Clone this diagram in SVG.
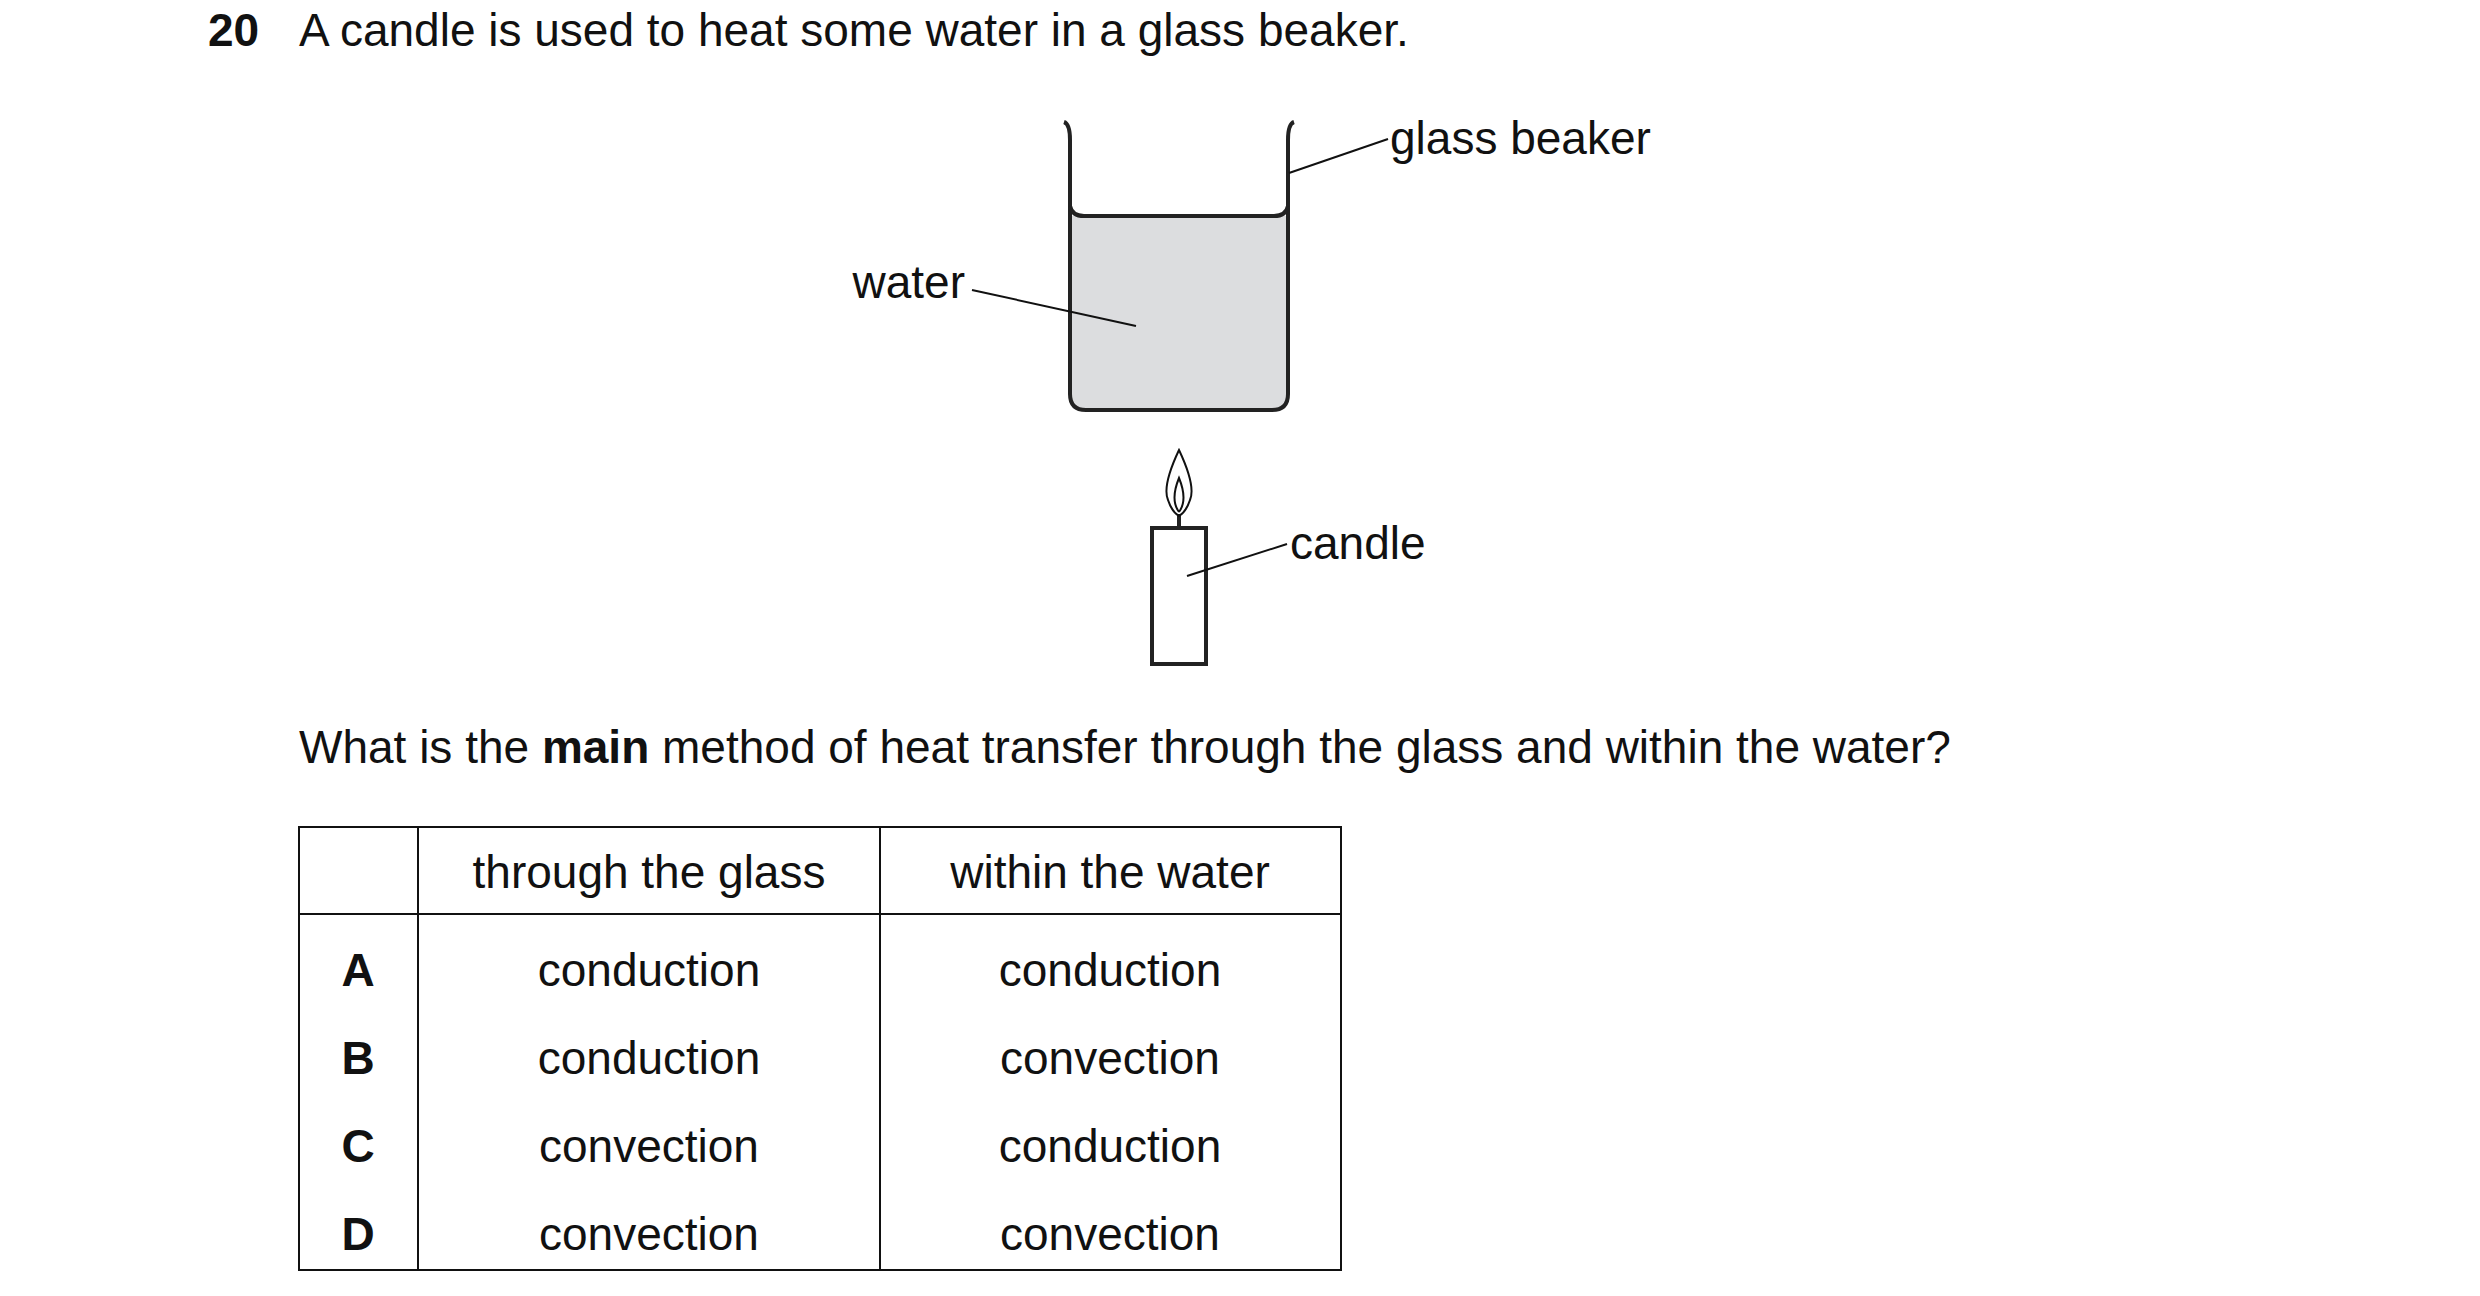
<svg xmlns="http://www.w3.org/2000/svg" width="2480" height="1296" viewBox="0 0 2480 1296">
<style>
text{font-family:"Liberation Sans",Arial,sans-serif;font-size:46px;fill:#111}
.b{font-weight:bold}
.c{text-anchor:middle}
.ln{stroke:#111;stroke-width:2;fill:none}
.th{stroke:#222;stroke-width:4;fill:none}
</style>
<rect width="2480" height="1296" fill="#fff"/>
<text class="b" x="208" y="46">20</text>
<text x="299" y="46">A candle is used to heat some water in a glass beaker.</text>
<g id="beaker">
<path d="M1070,216 L1288,216 L1288,394 Q1288,410 1272,410 L1086,410 Q1070,410 1070,394 Z" fill="#dcdddf"/>
<path class="th" d="M1064,122 Q1070,124 1070,140 L1070,394 Q1070,410 1086,410 L1272,410 Q1288,410 1288,394 L1288,140 Q1288,124 1294,122"/>
<path class="th" d="M1070,206 Q1072,216 1084,216 L1274,216 Q1286,216 1288,206"/>
</g>
<g id="candle">
<rect x="1152" y="528" width="54" height="136" class="th"/>
<line x1="1179" y1="514" x2="1179" y2="528" class="th" stroke-width="3"/>
<path class="ln" stroke-width="2.5" d="M1179,450 Q1196,486 1190,500 Q1186,512 1179,516 Q1172,512 1168,500 Q1162,486 1179,450 Z"/>
<path class="ln" stroke-width="1.5" d="M1179,512 Q1170,500 1179,478 Q1188,500 1179,512"/>
</g>
<g id="labels">
<line class="ln" x1="1289" y1="173" x2="1388" y2="139"/>
<text x="1390" y="154">glass beaker</text>
<line class="ln" x1="972" y1="290" x2="1136" y2="326"/>
<text x="965" y="298" text-anchor="end">water</text>
<line class="ln" x1="1187" y1="576" x2="1287" y2="544"/>
<text x="1290" y="559">candle</text>
</g>
<text x="299" y="763">What is the <tspan class="b">main</tspan> method of heat transfer through the glass and within the water?</text>
<g id="table">
<rect x="299" y="827" width="1042" height="443" class="ln" stroke-width="2.5"/>
<line class="ln" stroke-width="2.5" x1="299" y1="914" x2="1341" y2="914"/>
<line class="ln" stroke-width="2.5" x1="418" y1="827" x2="418" y2="1270"/>
<line class="ln" stroke-width="2.5" x1="880" y1="827" x2="880" y2="1270"/>
<text class="c" x="649" y="888">through the glass</text>
<text class="c" x="1110" y="888">within the water</text>
<text class="c b" x="358" y="986">A</text>
<text class="c" x="649" y="986">conduction</text>
<text class="c" x="1110" y="986">conduction</text>
<text class="c b" x="358" y="1074">B</text>
<text class="c" x="649" y="1074">conduction</text>
<text class="c" x="1110" y="1074">convection</text>
<text class="c b" x="358" y="1162">C</text>
<text class="c" x="649" y="1162">convection</text>
<text class="c" x="1110" y="1162">conduction</text>
<text class="c b" x="358" y="1250">D</text>
<text class="c" x="649" y="1250">convection</text>
<text class="c" x="1110" y="1250">convection</text>
</g>
</svg>
